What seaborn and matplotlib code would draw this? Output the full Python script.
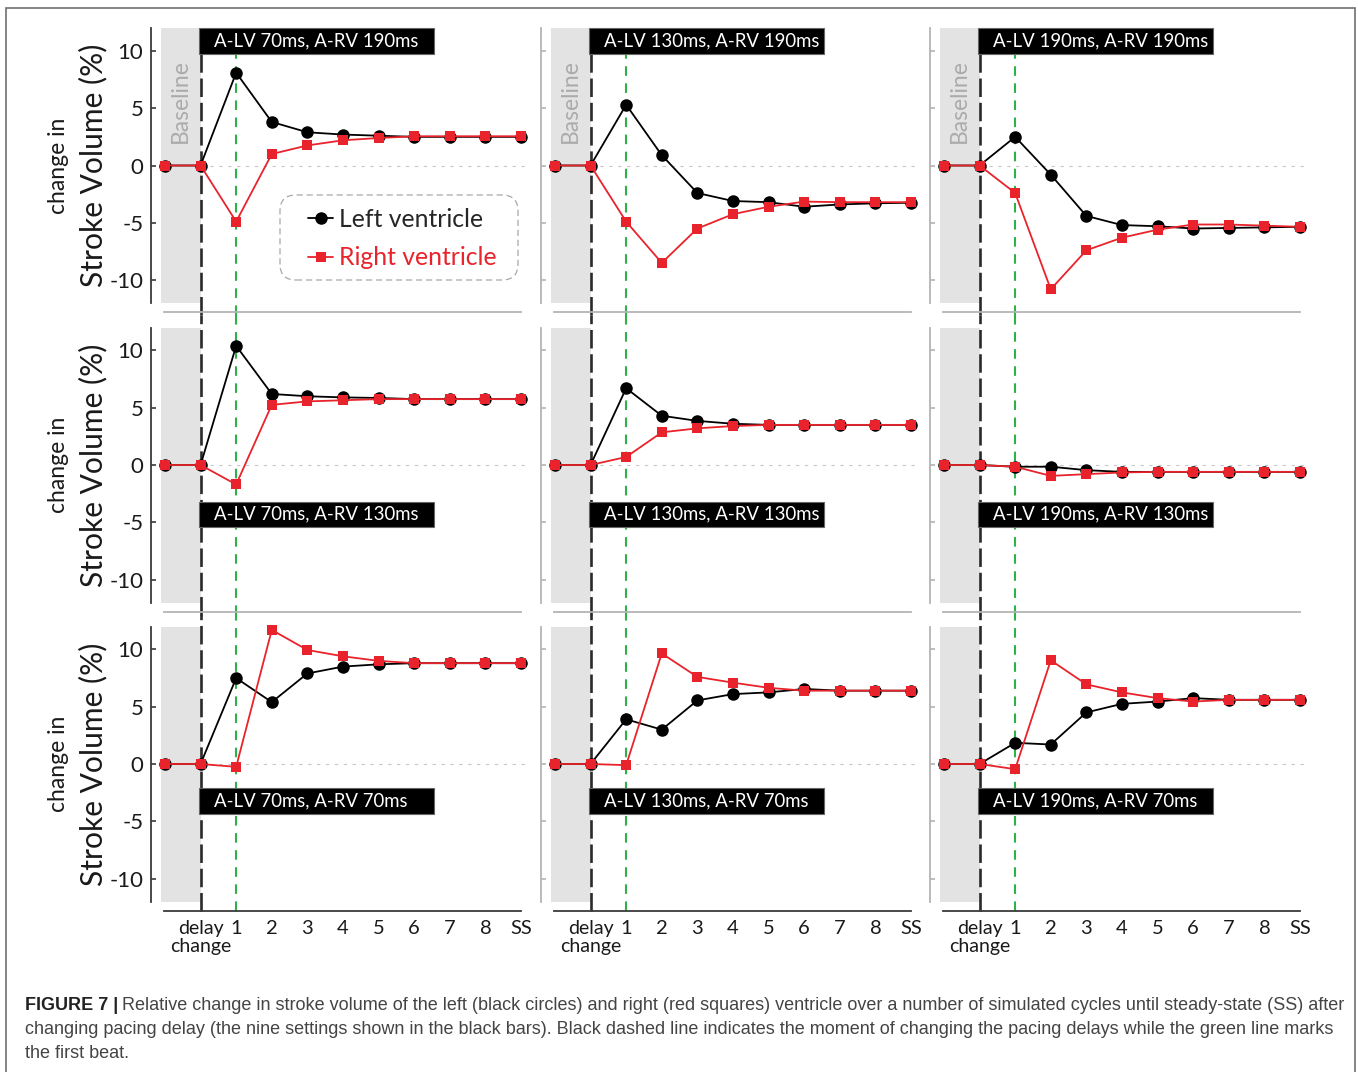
import matplotlib
matplotlib.use("Agg")
import matplotlib.pyplot as plt
import matplotlib.transforms as mtransforms
from matplotlib.patches import Rectangle, FancyBboxPatch
from matplotlib.lines import Line2D
import pandas as pd
import seaborn as sns

# x positions: baseline, delay change, beats 1-8, steady state
beat_positions = list(range(11))
beat_labels = ["", "delay\nchange", "1", "2", "3", "4", "5", "6", "7", "8", "SS"]

a_lv_delays = [70, 130, 190]   # one per column
a_rv_delays = [190, 130, 70]   # one per row

# Relative change in stroke volume (%) -- left ventricle
lv_70_190 = [0, 0, 8.1, 3.8, 2.9, 2.7, 2.6, 2.5, 2.5, 2.5, 2.5]
lv_130_190 = [0, 0, 5.3, 0.9, -2.4, -3.1, -3.2, -3.6, -3.4, -3.3, -3.25]
lv_190_190 = [0, 0, 2.5, -0.8, -4.4, -5.2, -5.3, -5.5, -5.45, -5.4, -5.35]
lv_70_130 = [0, 0, 10.4, 6.2, 6.0, 5.9, 5.85, 5.75, 5.75, 5.75, 5.75]
lv_130_130 = [0, 0, 6.7, 4.3, 3.85, 3.6, 3.5, 3.5, 3.5, 3.5, 3.5]
lv_190_130 = [0, 0, -0.15, -0.15, -0.45, -0.6, -0.6, -0.6, -0.6, -0.6, -0.6]
lv_70_70 = [0, 0, 7.5, 5.4, 7.9, 8.5, 8.7, 8.8, 8.8, 8.8, 8.8]
lv_130_70 = [0, 0, 3.9, 3.0, 5.55, 6.1, 6.25, 6.55, 6.4, 6.4, 6.4]
lv_190_70 = [0, 0, 1.85, 1.7, 4.5, 5.25, 5.45, 5.75, 5.6, 5.6, 5.6]

# Relative change in stroke volume (%) -- right ventricle
rv_70_190 = [0, 0, -4.9, 1.0, 1.75, 2.2, 2.4, 2.55, 2.55, 2.55, 2.55]
rv_130_190 = [0, 0, -4.9, -8.5, -5.5, -4.25, -3.6, -3.15, -3.2, -3.2, -3.2]
rv_190_190 = [0, 0, -2.4, -10.8, -7.4, -6.3, -5.6, -5.15, -5.15, -5.25, -5.35]
rv_70_130 = [0, 0, -1.7, 5.25, 5.55, 5.65, 5.75, 5.75, 5.75, 5.75, 5.75]
rv_130_130 = [0, 0, 0.7, 2.85, 3.2, 3.4, 3.5, 3.5, 3.5, 3.5, 3.5]
rv_190_130 = [0, 0, -0.15, -0.95, -0.8, -0.65, -0.6, -0.6, -0.6, -0.6, -0.6]
rv_70_70 = [0, 0, -0.25, 11.7, 9.95, 9.4, 9.0, 8.8, 8.8, 8.8, 8.8]
rv_130_70 = [0, 0, -0.1, 9.65, 7.6, 7.1, 6.65, 6.4, 6.4, 6.4, 6.4]
rv_190_70 = [0, 0, -0.45, 9.05, 6.95, 6.25, 5.75, 5.45, 5.6, 5.6, 5.6]

lv_series = [[lv_70_190, lv_130_190, lv_190_190],
             [lv_70_130, lv_130_130, lv_190_130],
             [lv_70_70, lv_130_70, lv_190_70]]
rv_series = [[rv_70_190, rv_130_190, rv_190_190],
             [rv_70_130, rv_130_130, rv_190_130],
             [rv_70_70, rv_130_70, rv_190_70]]

LV_NAME, RV_NAME = "Left ventricle", "Right ventricle"
RED = "#e8232b"
GREEN = "#2fb14a"
SHADE = "#e3e3e3"
GRAY_AX = "#b4b4b4"
DARK_AX = "#3a3a3a"

sns.set_theme(style="ticks")
plt.rcParams["font.family"] = ["Lato", "DejaVu Sans"]

W, H = 1358, 1072
fig = plt.figure(figsize=(W / 100, H / 100), dpi=100)

col_left = [161.4, 551.4, 940.4]
row_top = [28.0, 327.5, 626.5]
ax_w, ax_h = 366.7, 275.0
XLIM = (-0.1, 10.2)
YLIM = (-12, 12)

# label boxes: (bottom, top) in data units for each row
box_y = [(9.7, 12.0), (-5.45, -3.2), (-4.37, -2.12)]
# vertical extent of the event lines in axes fraction for each row
gap = 12.25 / ax_h
vline_span = [(-gap, 1.0), (-gap, 1.0 + gap), (-9.5 / ax_h, 1.0 + gap)]

axes = [[None] * 3 for _ in range(3)]
for r in range(3):
    for c in range(3):
        ax = fig.add_axes([col_left[c] / W, 1 - (row_top[r] + ax_h) / H,
                           ax_w / W, ax_h / H])
        axes[r][c] = ax
        ax.set_xlim(*XLIM)
        ax.set_ylim(*YLIM)
        ax.patch.set_alpha(0)

        # baseline shading and reference lines
        ax.axvspan(XLIM[0], 1, color=SHADE, lw=0, zorder=0)
        ax.hlines(0, 1, XLIM[1], colors="#c8c8c8", lw=0.8,
                  linestyles=(0, (3, 5)), zorder=1)
        y0, y1 = vline_span[r]
        ax.axvline(1, ymin=y0, ymax=y1, color="#2a2a2a", lw=1.9,
                   ls=(0, (7.0, 2.2)), clip_on=False, zorder=1.5)
        ax.axvline(2, ymin=y0, ymax=y1, color=GREEN, lw=1.5,
                   ls=(0, (4.6, 3.6)), clip_on=False, zorder=1.5)

        # stroke-volume traces
        df = pd.DataFrame({
            "beat": beat_positions * 2,
            "sv": lv_series[r][c] + rv_series[r][c],
            "ventricle": [LV_NAME] * 11 + [RV_NAME] * 11,
        })
        sns.lineplot(data=df, x="beat", y="sv", hue="ventricle",
                     style="ventricle", hue_order=[LV_NAME, RV_NAME],
                     palette={LV_NAME: "black", RV_NAME: RED},
                     markers={LV_NAME: "o", RV_NAME: "s"}, dashes=False,
                     estimator=None, sort=False, legend=False, ax=ax,
                     lw=1.3, markeredgewidth=0, clip_on=False, zorder=3)
        for ln in ax.lines:
            if ln.get_marker() == "o":
                ln.set_markersize(9.0)
            elif ln.get_marker() == "s":
                ln.set_markersize(7.6)
                ln.set_zorder(3.5)

        # setting label
        by0, by1 = box_y[r]
        ax.add_patch(Rectangle((0.96, by0), 7.55 - 0.96, by1 - by0,
                               facecolor="black", edgecolor="#666666",
                               lw=0.8, zorder=5, clip_on=False))
        ax.text(1.38, (by0 + by1) / 2 + 0.05,
                f"A-LV {a_lv_delays[c]}ms, A-RV {a_rv_delays[r]}ms",
                color="white", fontsize=13.4, ha="left", va="center",
                zorder=6)

        if r == 0:
            ax.text(0.43, 5.6, "Baseline", rotation=90, ha="center",
                    va="center", color="#ababab", fontsize=16.5, zorder=2)

        # axes styling
        sns.despine(ax=ax)
        ax.set_xlabel("")
        ax.set_ylabel("")
        ax.spines["left"].set_position(("outward", 7.8))
        ax.spines["bottom"].set_position(("outward", 6.6))
        ax.spines["bottom"].set_bounds(-0.03, 10)
        xcol = DARK_AX if r == 2 else GRAY_AX
        ycol = DARK_AX if c == 0 else GRAY_AX
        ax.spines["bottom"].set_color(xcol)
        ax.spines["left"].set_color(ycol)
        ax.spines["bottom"].set_linewidth(1.3)
        ax.spines["left"].set_linewidth(1.3)

        ax.set_xticks(beat_positions[1:])
        ax.set_xticks([3, 5, 7, 9], minor=True)
        ax.tick_params(axis="x", which="major", length=0, pad=6.6,
                       labelsize=14.5, labelcolor="#1a1a1a")
        ax.tick_params(axis="x", which="minor", bottom=True, direction="in",
                       length=3.8, width=1.2, color=xcol)
        ax.set_yticks([-10, -5, 0, 5, 10])
        ax.tick_params(axis="y", which="major", left=True, direction="in",
                       length=3.4, width=1.2, color=ycol, pad=5.2,
                       labelsize=16, labelcolor="#1a1a1a")
        if r == 2:
            ax.set_xticklabels(beat_labels[1:])
            lab = ax.get_xticklabels()[0]
            lab.set_linespacing(1.05)
            lab.set_fontsize(14)
        else:
            ax.set_xticklabels([])
        if c == 0:
            ax.set_yticklabels(["-10", "-5", "0", "5", "10"])
            ax.text(-0.1865, 0.5, "Stroke Volume (%)", rotation=90,
                    ha="center", va="center", fontsize=21.6,
                    transform=ax.transAxes, color="#1a1a1a")
            ax.text(-0.2806, 0.5, "change in", rotation=90, ha="center",
                    va="center", fontsize=16.5, transform=ax.transAxes,
                    color="#1a1a1a")
        else:
            ax.set_yticklabels([])

# legend in the first panel, with a dashed rounded frame around it
ax0 = axes[0][0]
handles = [Line2D([], [], color="black", lw=1.3, marker="o", ms=9.0, mew=0),
           Line2D([], [], color=RED, lw=1.3, marker="s", ms=7.6, mew=0)]
leg = ax0.legend(handles, [LV_NAME, RV_NAME], loc="upper left",
                 bbox_to_anchor=((308 - col_left[0]) / ax_w,
                                 1 - (208 - row_top[0]) / ax_h),
                 borderaxespad=0, borderpad=0, fontsize=17.8,
                 handlelength=1.02, handletextpad=0.22, labelspacing=0.62,
                 frameon=False)
leg.get_texts()[1].set_color(RED)
leg.set_zorder(7)
ax0.add_artist(FancyBboxPatch((280, H - 280), 238, 85,
                              boxstyle="round,pad=0,rounding_size=16",
                              transform=mtransforms.IdentityTransform(),
                              facecolor="white", edgecolor="#a8a8a8",
                              lw=0.9, ls=(0, (5, 3)), zorder=6,
                              clip_on=False))

# caption
cap_kw = dict(fontsize=12.95, family=["Liberation Sans", "DejaVu Sans"],
              va="baseline", ha="left")
bold = fig.text(25 / W, 1 - 1010 / H, "FIGURE 7 |", fontweight="bold",
                color="#222222", **cap_kw)
fig.canvas.draw()
bb = bold.get_window_extent()
fig.text((bb.x1 + 4) / W, 1 - 1010 / H,
         "Relative change in stroke volume of the left (black circles) and "
         "right (red squares) ventricle over a number of simulated cycles "
         "until steady-state (SS) after", color="#444444", **cap_kw)
fig.text(25 / W, 1 - 1034 / H,
         "changing pacing delay (the nine settings shown in the black bars). "
         "Black dashed line indicates the moment of changing the pacing "
         "delays while the green line marks", color="#444444", **cap_kw)
fig.text(25 / W, 1 - 1058 / H, "the first beat.", color="#444444", **cap_kw)

# outer frame
fig.add_artist(Rectangle((6 / W, -0.01), 1349 / W, 1 - 8 / H + 0.01,
                         transform=fig.transFigure, fill=False,
                         edgecolor="#707070", lw=1.2))

fig.savefig("out.png", dpi=100)
